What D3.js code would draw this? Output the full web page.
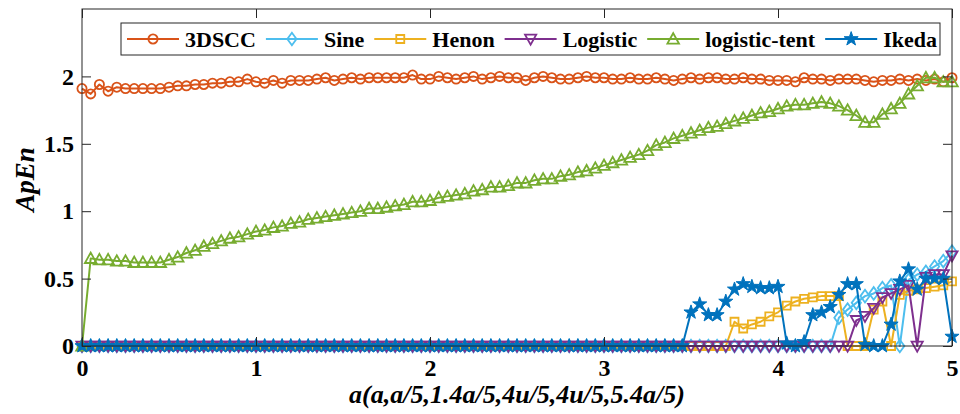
<!DOCTYPE html>
<html>
<head>
<meta charset="utf-8">
<script src="https://cdn.jsdelivr.net/npm/d3@7"></script>
<style>
  html, body { margin: 0; padding: 0; background: #fff; }
  svg { display: block; }
</style>
</head>
<body>
<svg id="chart" width="960" height="414"></svg>
<script>
// Control parameter a, sampled every 0.05 from 0 to 5 (101 samples)
const aValues = d3.range(101).map(i => +(i * 0.05).toFixed(2));

const seriesNames = ["3DSCC", "Sine", "Henon", "Logistic", "logistic-tent", "Ikeda"];

const apen3DSCC = [
  1.91,1.87,1.94,1.89,1.92,1.91,1.91,1.91,1.91,1.91,
  1.92,1.93,1.93,1.94,1.94,1.95,1.95,1.96,1.96,1.98,
  1.96,1.95,1.97,1.95,1.97,1.97,1.97,1.98,1.99,1.97,
  1.98,1.99,1.98,1.99,1.99,1.99,1.99,1.99,2.01,1.98,
  1.98,2.00,1.99,1.98,1.99,2.00,1.98,1.99,2.00,1.99,
  1.99,1.97,1.99,2.00,1.99,1.98,1.98,1.99,2.00,1.99,
  1.99,1.98,1.98,1.99,1.98,1.98,1.99,1.98,1.97,1.98,
  1.99,1.98,1.99,1.99,1.98,1.98,1.99,1.98,1.98,1.97,
  1.97,1.97,1.96,1.99,1.98,1.98,1.97,1.98,1.98,1.98,
  1.97,1.96,1.97,1.97,1.98,1.97,1.98,1.97,1.98,1.96,
  1.99
];

const apenSine = [
  0,0,0,0,0,0,0,0,0,0,
  0,0,0,0,0,0,0,0,0,0,
  0,0,0,0,0,0,0,0,0,0,
  0,0,0,0,0,0,0,0,0,0,
  0,0,0,0,0,0,0,0,0,0,
  0,0,0,0,0,0,0,0,0,0,
  0,0,0,0,0,0,0,0,0,0,
  0,0,0,0,0,0,0,0,0,0,
  0,0,0,0,0,0,0,0.21,0.27,0.32,
  0.37,0.39,0.43,0.45,0,0.49,0.53,0.55,0.59,0.63,
  0.70
];

const apenHenon = [
  0,0,0,0,0,0,0,0,0,0,
  0,0,0,0,0,0,0,0,0,0,
  0,0,0,0,0,0,0,0,0,0,
  0,0,0,0,0,0,0,0,0,0,
  0,0,0,0,0,0,0,0,0,0,
  0,0,0,0,0,0,0,0,0,0,
  0,0,0,0,0,0,0,0,0,0,
  0,0,0,0,0,0.18,0.13,0.16,0.18,0.22,
  0.25,0.30,0.33,0.35,0.36,0.37,0.37,0.37,0,0,
  0,0.27,0.33,0,0.38,0.41,0.42,0.43,0.44,0.45,
  0.48
];

const apenLogistic = [
  0,0,0,0,0,0,0,0,0,0,
  0,0,0,0,0,0,0,0,0,0,
  0,0,0,0,0,0,0,0,0,0,
  0,0,0,0,0,0,0,0,0,0,
  0,0,0,0,0,0,0,0,0,0,
  0,0,0,0,0,0,0,0,0,0,
  0,0,0,0,0,0,0,0,0,0,
  0,0,0,0,0,0,0,0,0,0,
  0,0,0,0,0,0,0,0,0,0.19,
  0.22,0.28,0.36,0.39,0.42,0.45,0,0.51,0.53,0.53,
  0.67
];

const apenLogisticTent = [
  0,0.65,0.64,0.64,0.63,0.63,0.62,0.62,0.62,0.62,
  0.64,0.66,0.69,0.71,0.74,0.76,0.78,0.80,0.81,0.83,
  0.85,0.86,0.88,0.89,0.91,0.92,0.94,0.95,0.96,0.97,
  0.98,0.99,1.00,1.02,1.02,1.03,1.04,1.05,1.07,1.07,
  1.08,1.10,1.11,1.12,1.13,1.15,1.16,1.18,1.18,1.19,
  1.21,1.21,1.23,1.24,1.24,1.26,1.27,1.29,1.30,1.32,
  1.34,1.36,1.38,1.40,1.42,1.45,1.49,1.51,1.54,1.56,
  1.58,1.60,1.62,1.63,1.65,1.67,1.69,1.71,1.73,1.74,
  1.76,1.78,1.79,1.79,1.80,1.81,1.80,1.78,1.75,1.71,
  1.66,1.66,1.72,1.76,1.80,1.87,1.93,1.99,1.99,1.96,
  1.96
];

const apenIkeda = [
  0,0,0,0,0,0,0,0,0,0,
  0,0,0,0,0,0,0,0,0,0,
  0,0,0,0,0,0,0,0,0,0,
  0,0,0,0,0,0,0,0,0,0,
  0,0,0,0,0,0,0,0,0,0,
  0,0,0,0,0,0,0,0,0,0,
  0,0,0,0,0,0,0,0,0,0,
  0.25,0.31,0.23,0.23,0.33,0.42,0.46,0.44,0.43,0.43,
  0.44,0.02,0,0.03,0.23,0.25,0.29,0.38,0.46,0.46,
  0.01,0,0,0.16,0.48,0.57,0.42,0.50,0.50,0.50,
  0.07
];

const xTicks = [0, 1, 2, 3, 4, 5];
const xTickLabels = ["0", "1", "2", "3", "4", "5"];
const yTicks = [0, 0.5, 1, 1.5, 2];
const yTickLabels = ["0", "0.5", "1", "1.5", "2"];

const xLabel = "a(a,a/5,1.4a/5,4u/5,4u/5,5.4a/5)";
const yLabel = "ApEn";

const FONT = '"Liberation Serif", "Times New Roman", serif';

// ---- marker shapes (custom d3 symbol types) ----
const circleSym = { draw(ctx) { ctx.moveTo(4.6, 0); ctx.arc(0, 0, 4.6, 0, 2 * Math.PI); } };
const diamondSym = { draw(ctx) { ctx.moveTo(0, -6.3); ctx.lineTo(4.6, 0); ctx.lineTo(0, 6.3); ctx.lineTo(-4.6, 0); ctx.closePath(); } };
const squareSym = { draw(ctx) { ctx.rect(-4, -4, 8, 8); } };
const triDownSym = { draw(ctx) { ctx.moveTo(-5.6, -4.4); ctx.lineTo(5.6, -4.4); ctx.lineTo(0, 5.6); ctx.closePath(); } };
const triUpSym = { draw(ctx) { ctx.moveTo(-5.8, 4.6); ctx.lineTo(5.8, 4.6); ctx.lineTo(0, -5.8); ctx.closePath(); } };
const starSym = { draw(ctx) {
  const R = 7.4, r = 2.9;
  for (let k = 0; k < 10; k++) {
    const ang = -Math.PI / 2 + k * Math.PI / 5;
    const rad = k % 2 === 0 ? R : r;
    const px = rad * Math.cos(ang), py = rad * Math.sin(ang);
    if (k === 0) ctx.moveTo(px, py); else ctx.lineTo(px, py);
  }
  ctx.closePath();
} };

const series = [
  { name: seriesNames[0], values: apen3DSCC,        color: "#D95319", sym: circleSym,  filled: false },
  { name: seriesNames[1], values: apenSine,         color: "#4DBEEE", sym: diamondSym, filled: false },
  { name: seriesNames[2], values: apenHenon,        color: "#EDB120", sym: squareSym,  filled: false },
  { name: seriesNames[3], values: apenLogistic,     color: "#7E2F8E", sym: triDownSym, filled: false },
  { name: seriesNames[4], values: apenLogisticTent, color: "#77AC30", sym: triUpSym,   filled: false },
  { name: seriesNames[5], values: apenIkeda,        color: "#0072BD", sym: starSym,    filled: true  }
];

// ---- layout ----
const svg = d3.select("#chart");
const plotL = 82, plotR = 952, plotT = 9, plotB = 346;
const x = d3.scaleLinear().domain([0, 5]).range([plotL, plotR]);
const y = d3.scaleLinear().domain([0, 2.5]).range([plotB, plotT]);
const axisColor = "#262626";

const textStyle = (sel, size, italic) => sel
  .style("font-family", FONT)
  .style("font-weight", "bold")
  .style("font-style", italic ? "italic" : "normal")
  .style("font-size", size + "px")
  .style("fill", "#000");

// ---- data lines and markers ----
const line = d3.line().x((d, i) => x(aValues[i])).y(d => y(d));
series.forEach(s => {
  const g = svg.append("g");
  g.append("path")
    .attr("d", line(s.values))
    .attr("fill", "none")
    .attr("stroke", s.color)
    .attr("stroke-width", 2)
    .attr("stroke-linejoin", "round");
  g.selectAll("path.mk")
    .data(s.values)
    .join("path")
    .attr("class", "mk")
    .attr("transform", (d, i) => `translate(${x(aValues[i])},${y(d)})`)
    .attr("d", d3.symbol().type(s.sym))
    .attr("fill", s.filled ? s.color : "none")
    .attr("stroke", s.color)
    .attr("stroke-width", s.filled ? 1 : 1.8)
    .attr("stroke-linejoin", "miter");
});

// ---- axes (ticks point inward, box on all sides) ----
const tick = 9;
const styleAxis = g => {
  g.selectAll(".domain").remove();
  g.selectAll(".tick line").attr("stroke", axisColor).attr("stroke-width", 1);
  g.selectAll("text").call(textStyle, 24, false);
};
svg.append("g").attr("transform", `translate(0,${plotB})`)
  .call(d3.axisBottom(x).tickValues(xTicks).tickFormat((d, i) => xTickLabels[i]).tickSize(-tick).tickPadding(13))
  .call(styleAxis);
svg.append("g").attr("transform", `translate(${plotL},0)`)
  .call(d3.axisLeft(y).tickValues(yTicks).tickFormat((d, i) => yTickLabels[i]).tickSize(-tick).tickPadding(8))
  .call(styleAxis);
svg.append("g").attr("transform", `translate(0,${plotT})`)
  .call(d3.axisTop(x).tickValues(xTicks).tickFormat("").tickSize(-tick))
  .call(styleAxis);
svg.append("g").attr("transform", `translate(${plotR},0)`)
  .call(d3.axisRight(y).tickValues(yTicks).tickFormat("").tickSize(-tick))
  .call(styleAxis);

svg.append("rect")
  .attr("x", plotL).attr("y", plotT)
  .attr("width", plotR - plotL).attr("height", plotB - plotT)
  .attr("fill", "none").attr("stroke", axisColor).attr("stroke-width", 1);

// ---- axis titles ----
svg.append("text")
  .attr("x", (plotL + plotR) / 2).attr("y", 403)
  .attr("text-anchor", "middle")
  .call(textStyle, 26, true)
  .text(xLabel);
svg.append("text")
  .attr("transform", `translate(34,${(plotT + plotB) / 2 + 2}) rotate(-90)`)
  .attr("text-anchor", "middle")
  .call(textStyle, 27, true)
  .text(yLabel);

// ---- legend ----
const legend = svg.append("g");
const legX = 121, legY = 23, legW = 819, legH = 32;
legend.append("rect")
  .attr("x", legX).attr("y", legY).attr("width", legW).attr("height", legH)
  .attr("fill", "#fff").attr("stroke", axisColor).attr("stroke-width", 1);
let cx = legX + 6;
const cy = legY + legH / 2;
series.forEach(s => {
  const g = legend.append("g");
  g.append("line")
    .attr("x1", cx).attr("x2", cx + 52).attr("y1", cy).attr("y2", cy)
    .attr("stroke", s.color).attr("stroke-width", 2);
  g.append("path")
    .attr("transform", `translate(${cx + 26},${cy})`)
    .attr("d", d3.symbol().type(s.sym))
    .attr("fill", s.filled ? s.color : "none")
    .attr("stroke", s.color)
    .attr("stroke-width", s.filled ? 1 : 1.8);
  const t = g.append("text")
    .attr("x", cx + 58).attr("y", cy + 7.5)
    .call(textStyle, 22, false)
    .text(s.name);
  cx += 58 + t.node().getComputedTextLength() + 10;
});
</script>
</body>
</html>
